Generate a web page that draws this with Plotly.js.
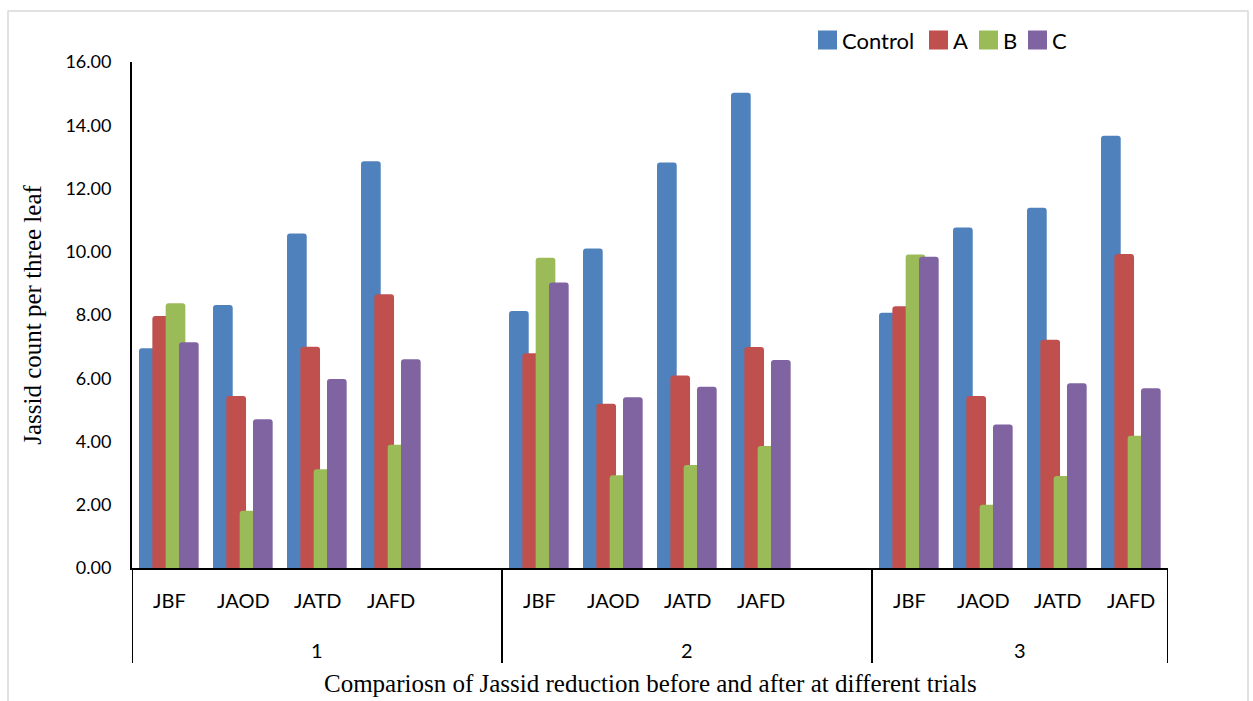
<!DOCTYPE html>
<html>
<head>
<meta charset="utf-8">
<script src="https://cdn.plot.ly/plotly-3.0.1.min.js"></script>
<style>html,body{margin:0;padding:0;background:#fff;}#chart{width:1253px;height:701px;}</style>
</head>
<body>
<div id="chart"></div>
<script>
// Data
var trials = ['1','1','1','1','1','2','2','2','2','2','3','3','3','3'];
var stages = ['JBF','JAOD','JATD','JAFD','','JBF','JAOD','JATD','JAFD','','JBF','JAOD','JATD','JAFD'];
var control = [6.95, 8.32, 10.58, 12.86, null, 8.13, 10.10, 12.82, 15.03, null, 8.07, 10.77, 11.39, 13.67];
var seriesA = [7.97, 5.44, 7.00, 8.66, null, 6.79, 5.19, 6.09, 6.99, null, 8.28, 5.44, 7.22, 9.93];
var seriesB = [8.37, 1.81, 3.12, 3.90, null, 9.81, 2.93, 3.26, 3.86, null, 9.91, 2.00, 2.91, 4.18];
var seriesC = [7.14, 4.70, 5.98, 6.60, null, 9.03, 5.40, 5.73, 6.58, null, 9.84, 4.54, 5.84, 5.68];
var seriesNames = ['Control', 'A', 'B', 'C'];
var yTicks = [0, 2, 4, 6, 8, 10, 12, 14, 16];
var xTitle = 'Compariosn of Jassid reduction before and after at different trials';
var yTitle = 'Jassid count per three leaf';

// Styles / layout constants
var W = 1253, H = 701;
var M = {l: 132, r: 85, t: 62, b: 133};
var colors = ['#4F81BD', '#C0504D', '#9BBB59', '#8064A2'];
var offsets = [-0.405, -0.225, -0.045, 0.135];
var legendSwatchLeft = [818, 929, 979, 1028];   // px
var legendSwatchSize = 19;                        // px
var legendTextGap = 3;                            // px
var legendCenterY = 40;                           // px
var sansFont = 'Lato, "Open Sans", sans-serif';
var serifFont = '"Liberation Serif", "Times New Roman", serif';

var plotW = W - M.l - M.r, plotH = H - M.t - M.b;
function px2x(px) { return (px - M.l) / plotW; }
function px2y(py) { return (H - M.b - py) / plotH; }

var allSeries = [control, seriesA, seriesB, seriesC];
var xpos = stages.map(function(s, i) { return i; });

var traces = allSeries.map(function(vals, i) {
  return {
    type: 'bar',
    name: seriesNames[i],
    x: xpos,
    y: vals,
    width: 0.266,
    offset: offsets[i],
    marker: {color: colors[i], cornerradius: 3, line: {width: 0}},
    hoverinfo: 'y',
    showlegend: false
  };
});

var annotations = [];
var shapes = [];

// category labels
stages.forEach(function(s, i) {
  if (s) {
    annotations.push({
      xref: 'x', yref: 'paper', x: i, y: px2y(600), yanchor: 'middle', xanchor: 'center',
      text: s, showarrow: false, font: {family: sansFont, size: 20, color: '#000'}
    });
  }
});
// group labels and dividers
var groups = [];
trials.forEach(function(t, i) {
  var g = groups.length ? groups[groups.length - 1] : null;
  if (!g || g.name !== t) { groups.push({name: t, first: i, last: i}); }
  else { g.last = i; }
});
groups.forEach(function(g, k) {
  annotations.push({
    xref: 'x', yref: 'paper', x: (g.first + g.last) / 2, y: px2y(650), yanchor: 'middle', xanchor: 'center',
    text: g.name, showarrow: false, font: {family: sansFont, size: 20, color: '#000'}
  });
  var bounds = k === 0 ? [g.first - 0.5, g.last + 0.5] : [g.last + 0.5];
  bounds.forEach(function(b) {
    shapes.push({type: 'line', xref: 'x', yref: 'paper', x0: b, x1: b, y0: 0, y1: px2y(663),
      line: {color: '#000', width: 2}});
  });
});
// x title
annotations.push({
  xref: 'paper', yref: 'paper', x: 0.5, y: px2y(683), yanchor: 'middle', xanchor: 'center',
  text: xTitle, showarrow: false, font: {family: serifFont, size: 25, color: '#000'}
});
// legend
seriesNames.forEach(function(name, i) {
  var x0 = legendSwatchLeft[i];
  shapes.push({
    type: 'rect', xref: 'paper', yref: 'paper',
    x0: px2x(x0), x1: px2x(x0 + legendSwatchSize),
    y0: px2y(legendCenterY + legendSwatchSize / 2), y1: px2y(legendCenterY - legendSwatchSize / 2),
    line: {width: 0}, fillcolor: colors[i]
  });
  annotations.push({
    xref: 'paper', yref: 'paper', x: px2x(x0 + legendSwatchSize + legendTextGap), y: px2y(legendCenterY),
    xanchor: 'left', yanchor: 'middle', text: name, showarrow: false,
    font: {family: sansFont, size: 22, color: '#000'}
  });
});
// outer border
shapes.push({
  type: 'rect', xref: 'paper', yref: 'paper',
  x0: px2x(8), x1: px2x(1248), y0: px2y(705), y1: px2y(11),
  line: {color: '#d9d9d9', width: 1.5}, fillcolor: 'rgba(0,0,0,0)', layer: 'below'
});

var layout = {
  width: W,
  height: H,
  margin: {l: M.l, r: M.r, t: M.t, b: M.b, autoexpand: false},
  paper_bgcolor: '#ffffff',
  plot_bgcolor: '#ffffff',
  barmode: 'overlay',
  showlegend: false,
  xaxis: {
    range: [-0.5, stages.length - 0.5],
    showline: true,
    linecolor: '#000',
    linewidth: 2,
    ticks: '',
    showgrid: false,
    zeroline: false,
    showticklabels: false
  },
  yaxis: {
    range: [0, 16],
    tickvals: yTicks,
    tickformat: '.2f',
    showline: true,
    linecolor: '#000',
    linewidth: 2,
    ticks: '',
    showgrid: false,
    zeroline: false,
    ticklabelstandoff: 15,
    tickfont: {family: sansFont, size: 18, color: '#000'},
    title: {
      text: yTitle,
      font: {family: serifFont, size: 25, color: '#000'},
      standoff: 17
    }
  },
  annotations: annotations,
  shapes: shapes
};

Plotly.newPlot('chart', traces, layout, {displayModeBar: false, staticPlot: true});
</script>
</body>
</html>
